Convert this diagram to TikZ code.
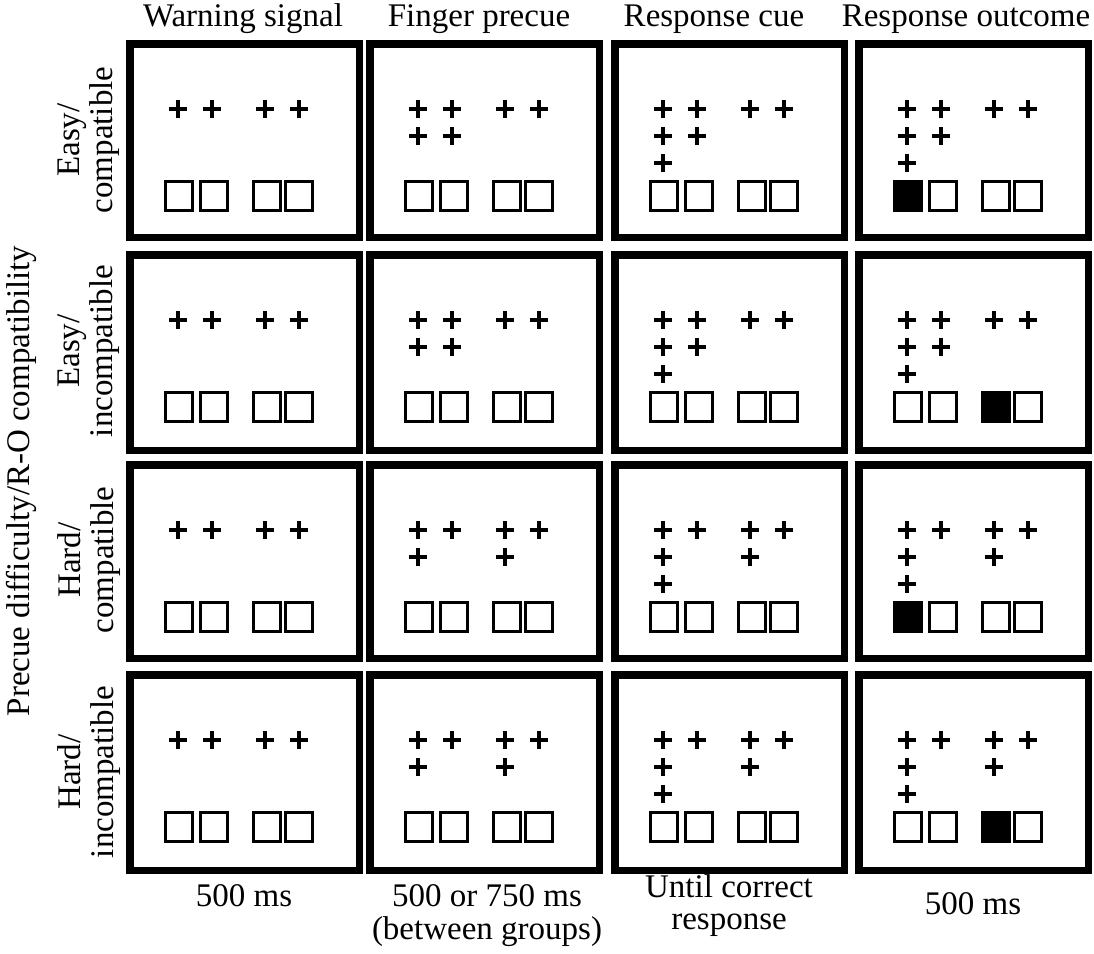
\documentclass[tikz,border=0pt]{standalone}
\usepackage{fontspec}
\setmainfont{Liberation Serif}
\tikzset{
  panelbox/.style={draw=black,line width=7.5pt},
  plusline/.style={draw=black,line width=3.6pt},
  sqbox/.style={draw=black,line width=3pt},
  lbl/.style={font=\fontsize{33}{33}\selectfont,inner sep=0pt,align=center},
}
\newcommand\drawpanel[5]{%
  \edef\myplist{#3}%
  \edef\mysqlist{#4}%
  \begin{scope}[shift={(#1,#2)}]
    \draw[panelbox] (3.75,3.75) rectangle (233.25,#5-3.75);
    \foreach \px/\py in \myplist {
      \draw[plusline] (\px-9,\py) -- (\px+9,\py) (\px,\py-9) -- (\px,\py+9);
    }
    \foreach \sa/\sb/\sf in \mysqlist {
      \draw[sqbox,fill=\sf] (\sa+1.5,141.5) rectangle (\sb-1.5,170.5);
    }
  \end{scope}}
\begin{document}
\begin{tikzpicture}[x=1pt,y=-1pt]
\useasboundingbox[fill=white] (0,0) rectangle (1094,953);
% column headers
\node[lbl,anchor=base] (h1) at (243,27) {Warning signal};
\node[lbl,anchor=base] (h2) at (479,27) {Finger precue};
\node[lbl,anchor=base] (h3) at (714,27) {Response cue};
\node[lbl,anchor=base] (h4) at (966,27) {Response outcome};
% left labels
\node[lbl,rotate=90] (ylab) at (21,481) {Precue difficulty/R-O compatibility};
\node[lbl,rotate=90] (r1) at (89,140) {Easy/\\compatible};
\node[lbl,rotate=90] (r2) at (89,351) {Easy/\\incompatible};
\node[lbl,rotate=90] (r3) at (89,560) {Hard/\\compatible};
\node[lbl,rotate=90] (r4) at (89,772) {Hard/\\incompatible};
% bottom labels
\node[lbl,anchor=base] (b1) at (244,906) {500 ms};
\node[lbl,anchor=base] (b2a) at (487,906) {500 or 750 ms};
\node[lbl,anchor=base] (b2b) at (487,939) {(between groups)};
\node[lbl,anchor=base] (b3a) at (729,897) {Until correct};
\node[lbl,anchor=base] (b3b) at (729,929) {response};
\node[lbl,anchor=base] (b4) at (973,914) {500 ms};
% panels
\def\toprow{52/69,86/69,139/69,173/69}
\def\easyp{\toprow,52/96,86/96}
\def\hardp{\toprow,52/96,139/96}
\def\sqs{38/68/white,73/103/white,126/156/white,158/188/white}
\def\sqone{38/68/black,73/103/white,126/156/white,158/188/white}
\def\sqthree{38/68/white,73/103/white,126/156/black,158/188/white}
\drawpanel{126}{40}{\toprow}{\sqs}{201}
\drawpanel{366}{40}{\easyp}{\sqs}{201}
\drawpanel{611}{40}{\easyp,52/123}{\sqs}{201}
\drawpanel{855}{40}{\easyp,52/123}{\sqone}{201}
\drawpanel{126}{251}{\toprow}{\sqs}{203}
\drawpanel{366}{251}{\easyp}{\sqs}{203}
\drawpanel{611}{251}{\easyp,52/123}{\sqs}{203}
\drawpanel{855}{251}{\easyp,52/123}{\sqthree}{203}
\drawpanel{126}{461}{\toprow}{\sqs}{201}
\drawpanel{366}{461}{\hardp}{\sqs}{201}
\drawpanel{611}{461}{\hardp,52/123}{\sqs}{201}
\drawpanel{855}{461}{\hardp,52/123}{\sqone}{201}
\drawpanel{126}{671}{\toprow}{\sqs}{203}
\drawpanel{366}{671}{\hardp}{\sqs}{203}
\drawpanel{611}{671}{\hardp,52/123}{\sqs}{203}
\drawpanel{855}{671}{\hardp,52/123}{\sqthree}{203}
\end{tikzpicture}
\end{document}
